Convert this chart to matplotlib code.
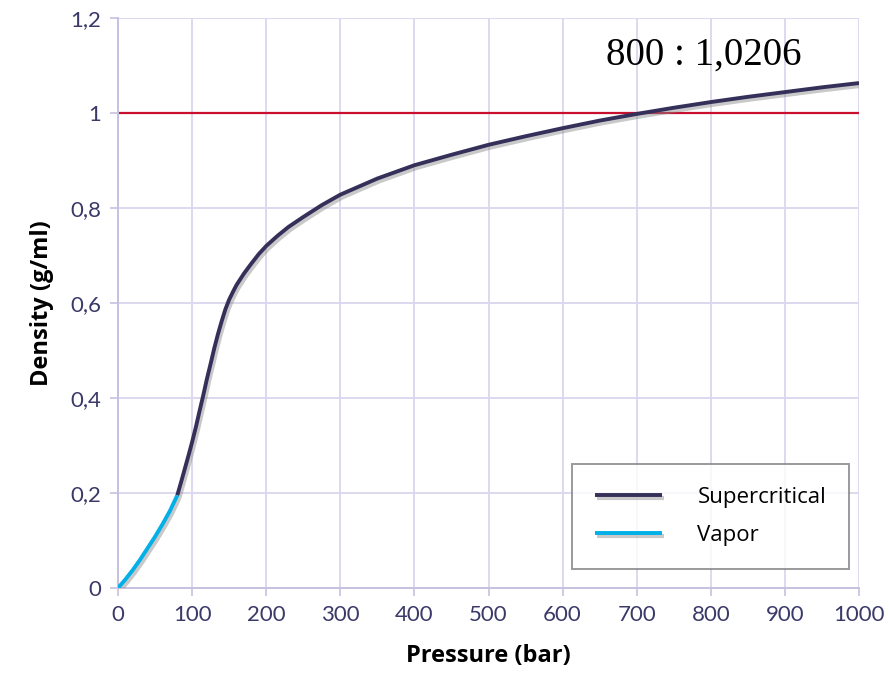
import matplotlib.pyplot as plt
import matplotlib.patheffects as pe

# Vapor branch (bar, g/ml)
vap_p = [0, 10, 20, 30, 40, 50, 60, 70, 80]
vap_d = [0.0, 0.018, 0.038, 0.06, 0.084, 0.108, 0.134, 0.162, 0.195]

# Supercritical branch (bar, g/ml)
sc_p = [80, 85, 90, 95, 100, 105, 110, 115, 120, 125, 130, 135, 140, 145,
        150, 155, 160, 170, 180, 190, 200, 215, 230, 250, 275, 300, 350, 400,
        450, 500, 550, 600, 650, 700, 750, 800, 850, 900, 950, 1000]
sc_d = [0.195, 0.222, 0.25, 0.278, 0.307, 0.338, 0.372, 0.405, 0.44, 0.472,
        0.505, 0.535, 0.562, 0.587, 0.607, 0.623, 0.638, 0.662, 0.683, 0.703,
        0.72, 0.741, 0.76, 0.781, 0.806, 0.828, 0.862, 0.89, 0.912, 0.933,
        0.951, 0.968, 0.984, 0.998, 1.011, 1.023, 1.034, 1.044, 1.054, 1.063]

x_ticks = [0, 100, 200, 300, 400, 500, 600, 700, 800, 900, 1000]
y_ticks = [0, 0.2, 0.4, 0.6, 0.8, 1.0, 1.2]
y_labels = ['0', '0,2', '0,4', '0,6', '0,8', '1', '1,2']

fig = plt.figure(figsize=(8.89, 6.89), dpi=100)
ax = fig.add_axes([0.1327, 0.1466, 0.8336, 0.8273])

grid_c = '#dcd6ee'
text_c = '#3a3968'
shadow = [pe.SimpleLineShadow(offset=(1.5, -2), shadow_color='#888888', alpha=0.45, linewidth=3),
          pe.Normal()]

ax.axhline(1.0, color='#c8102e', linewidth=1.6, zorder=2)
ax.plot(sc_p, sc_d, color='#35305a', linewidth=2.8, label='Supercritical',
        path_effects=shadow, zorder=3, solid_capstyle='butt')
ax.plot(vap_p, vap_d, color='#00b0e6', linewidth=2.8, label='Vapor',
        path_effects=shadow, zorder=3, solid_capstyle='butt')

ax.set_xlim(0, 1000)
ax.set_ylim(0, 1.2)
ax.set_xticks(x_ticks)
ax.set_yticks(y_ticks)
ax.set_yticklabels(y_labels)
ax.grid(True, color=grid_c, linewidth=1.3, zorder=0)
ax.set_axisbelow(True)
for s in ['top', 'right']:
    ax.spines[s].set_visible(False)
for s in ['left', 'bottom']:
    ax.spines[s].set_color('#c8c0e0')
    ax.spines[s].set_linewidth(1.4)
ax.tick_params(colors='#c8c0e0', length=6, width=1.2, labelcolor=text_c,
               labelsize=16, pad=6)
for lab in ax.get_xticklabels() + ax.get_yticklabels():
    lab.set_family('Lato')

ax.set_xlabel('Pressure (bar)', fontsize=17, fontweight='bold', family='Open Sans', labelpad=14)
ax.set_ylabel('Density (g/ml)', fontsize=17, fontweight='bold', family='Open Sans', labelpad=12)

ax.text(791, 1.122, '800 : 1,0206', fontsize=28, family='Liberation Serif',
        ha='center', va='center', color='black')

leg = ax.legend(loc='lower right', bbox_to_anchor=(0.987, 0.033), frameon=True,
                fancybox=False, fontsize=16, handlelength=3.0, borderpad=1.05,
                labelspacing=0.75, handletextpad=1.6, borderaxespad=0)
leg.get_frame().set_edgecolor('#808080')
leg.get_frame().set_linewidth(1.4)
for t in leg.get_texts():
    t.set_family('Open Sans')

fig.savefig('out.png', dpi=100)
